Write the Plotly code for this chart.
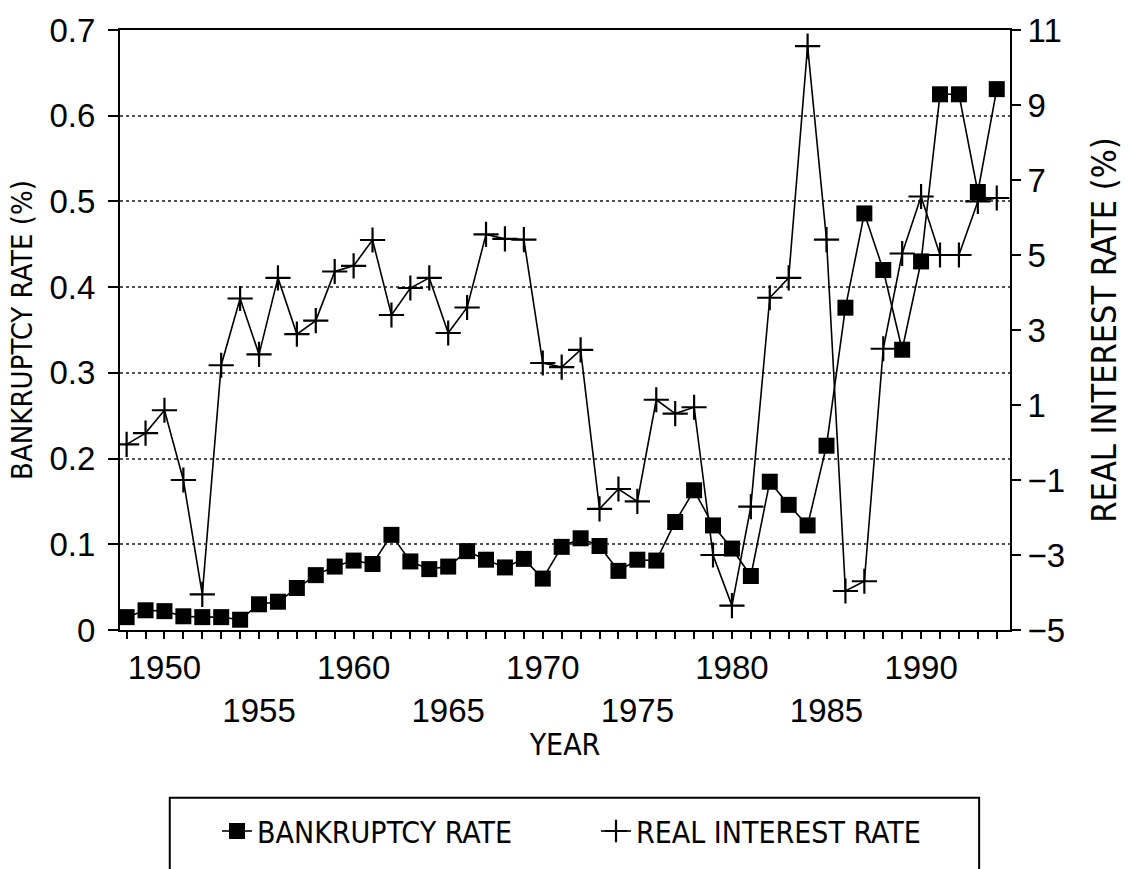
import plotly.graph_objects as go

years = list(range(1948, 1995))
bankruptcy = [0.015, 0.023, 0.022, 0.016, 0.015, 0.015, 0.012, 0.030, 0.033, 0.049,
              0.064, 0.074, 0.081, 0.077, 0.111, 0.080, 0.071, 0.074, 0.092, 0.082,
              0.073, 0.083, 0.060, 0.097, 0.107, 0.098, 0.069, 0.082, 0.081, 0.126,
              0.163, 0.122, 0.095, 0.063, 0.173, 0.146, 0.122, 0.215, 0.376, 0.486,
              0.420, 0.327, 0.430, 0.625, 0.625, 0.511, 0.631]
interest = [-0.05, 0.25, 0.86, -1.0, -4.05, 2.06, 3.84, 2.35, 4.39, 2.89,
            3.25, 4.56, 4.71, 5.40, 3.40, 4.12, 4.39, 2.92, 3.60, 5.55,
            5.43, 5.41, 2.12, 2.01, 2.47, -1.77, -1.24, -1.57, 1.14, 0.77,
            0.94, -3.0, -4.35, -1.71, 3.86, 4.39, 10.57, 5.41, -3.96, -3.70,
            2.50, 5.04, 6.56, 5.0, 5.0, 6.43, 6.52]

left_ticks = [0, 0.1, 0.2, 0.3, 0.4, 0.5, 0.6, 0.7]
left_ticktext = ["0", "0.1", "0.2", "0.3", "0.4", "0.5", "0.6", "0.7"]
right_ticks = [-5, -3, -1, 1, 3, 5, 7, 9, 11]
decade_labels = [1950, 1960, 1970, 1980, 1990]
half_labels = [1955, 1965, 1975, 1985]

x_ticktext = []
for yr in years:
    if yr in decade_labels:
        x_ticktext.append(str(yr))
    elif yr in half_labels:
        x_ticktext.append("<br>" + str(yr))
    else:
        x_ticktext.append("")

NARROW = "Liberation Sans Narrow, DejaVu Sans Condensed, Arial Narrow, sans-serif"
REG = "Liberation Sans, Arial, sans-serif"

fig = go.Figure()
fig.add_trace(go.Scatter(
    x=years, y=bankruptcy, name="BANKRUPTCY RATE", mode="lines+markers",
    line=dict(color="black", width=1.6),
    marker=dict(symbol="square", size=16, color="black"),
    yaxis="y"))
fig.add_trace(go.Scatter(
    x=years, y=interest, name="REAL INTEREST RATE", mode="lines+markers",
    line=dict(color="black", width=1.6),
    marker=dict(symbol="cross-thin", size=18, color="black",
                line=dict(color="black", width=2.2)),
    yaxis="y2"))

fig.update_layout(
    width=1129, height=869,
    margin=dict(l=120, r=115, t=27, b=230),
    paper_bgcolor="white", plot_bgcolor="white",
    font=dict(family=REG, color="black", size=33),
    showlegend=True,
    legend=dict(orientation="h", x=0.109, y=-0.335, xanchor="left", yanchor="middle",
                font=dict(family=NARROW, size=30), borderwidth=0,
                bgcolor="rgba(0,0,0,0)", entrywidth=334),
    xaxis=dict(range=[1947.65, 1994.7], tickvals=years, ticktext=x_ticktext,
               ticks="outside", ticklen=7, tickwidth=1.5, tickcolor="black",
               showline=True, linecolor="black", linewidth=2, mirror=True,
               showgrid=False, zeroline=False,
               tickfont=dict(family=REG, size=33),
               title=dict(text="YEAR", font=dict(family=NARROW, size=30), standoff=6)),
    yaxis=dict(range=[0, 0.7], tickvals=left_ticks, ticktext=left_ticktext,
               ticks="outside", ticklen=10, tickwidth=1.5, tickcolor="black",
               showline=True, linecolor="black", linewidth=2,
               showgrid=True, gridcolor="rgba(50,50,50,0.85)", griddash="dot", gridwidth=1.5,
               zeroline=False, tickfont=dict(family=REG, size=33), ticklabelstandoff=6,
               title=dict(text="BANKRUPTCY RATE (%)", font=dict(family=NARROW, size=29), standoff=8)),
    yaxis2=dict(range=[-5, 11], tickvals=right_ticks, overlaying="y", side="right",
                ticks="outside", ticklen=9, tickwidth=1.5, tickcolor="black",
                showline=True, linecolor="black", linewidth=2,
                showgrid=False, zeroline=False, tickfont=dict(family=REG, size=33),
                title=dict(text="REAL INTEREST RATE (%)", font=dict(family=NARROW, size=34), standoff=28)),
)

fig.add_shape(type="rect", xref="paper", yref="paper",
              x0=(170 - 120) / 894, x1=(983 - 120) / 894,
              y0=(639 - 810) / 612, y1=-0.5,
              line=dict(color="black", width=2), fillcolor="rgba(0,0,0,0)")

fig.write_html("out.html")
